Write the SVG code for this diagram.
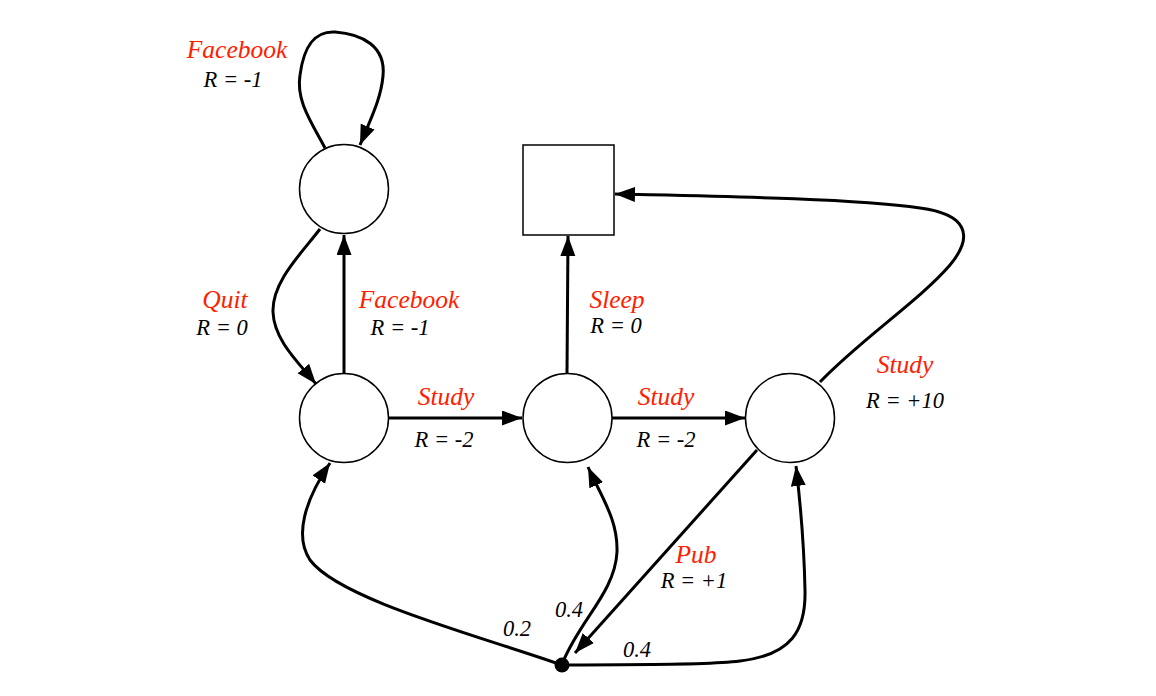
<svg xmlns="http://www.w3.org/2000/svg" width="1156" height="696" viewBox="0 0 1156 696">
<style>
.node{fill:#fff;stroke:#000;stroke-width:1.5}
.edge{fill:none;stroke:#000;stroke-width:3;marker-end:url(#ah)}
.act{font-family:"Liberation Serif","Times New Roman",serif;font-style:italic;font-size:25.5px;fill:#ff2000;text-anchor:middle}
.rw{font-family:"Liberation Serif","Times New Roman",serif;font-style:italic;font-size:22.5px;fill:#000;text-anchor:middle}
</style>
<defs>
<marker id="ah" markerUnits="userSpaceOnUse" markerWidth="22" markerHeight="16" refX="20" refY="7.5" orient="auto" viewBox="0 0 22 16">
<path d="M0,0 L20,7.5 L0,15 z" fill="#000"/>
</marker>
</defs>
<rect width="1156" height="696" fill="#fff"/>
<g id="connectors">
<path class="edge" d="M325,148 C310,120 296,100 300,75 C304,45 315,31 335,32 C362,34 386,46 383,76 C381,98 372,116 360,145"/>
<path class="edge" d="M320,229 C300,255 272,282 273,312 C274,340 298,362 316,384"/>
<path class="edge" d="M344,373 L344,235"/>
<path class="edge" d="M389,418 L522,418"/>
<path class="edge" d="M612,418 L745,418"/>
<path class="edge" d="M567,373 L568,236"/>
<path class="edge" d="M820,382 C860,340 920,300 950,265 C975,235 966,214 920,208 C850,198 700,196 615,194"/>
<path class="edge" d="M757,450 L575,653"/>
<path class="edge" d="M562,665 C480,636 340,600 310,560 C294,536 305,500 330,463"/>
<path class="edge" d="M563,662 C580,620 615,592 617,552 C618,520 602,498 588,467"/>
<path class="edge" d="M568,665 C620,664 700,666 740,661 C792,655 806,630 805,590 C804,540 800,500 796,466"/>
</g>
<g id="s_facebook"><circle class="node" cx="344" cy="189" r="44.5"/></g>
<g id="s_class1"><circle class="node" cx="344" cy="418" r="44.5"/></g>
<g id="s_class2"><circle class="node" cx="567.5" cy="418" r="44.5"/></g>
<g id="s_class3"><circle class="node" cx="790" cy="418" r="44.5"/></g>
<g id="s_sleep"><rect class="node" x="523" y="145" width="91" height="90"/></g>
<g id="pub_chance"><circle cx="562" cy="665" r="7.5" fill="#000"/></g>
<g id="labels">
<text class="act" x="237" y="58">Facebook</text>
<text class="rw" x="233" y="87">R = -1</text>
<text class="act" x="225" y="308">Quit</text>
<text class="rw" x="222" y="335">R = 0</text>
<text class="act" x="409" y="308">Facebook</text>
<text class="rw" x="400" y="335">R = -1</text>
<text class="act" x="446" y="405">Study</text>
<text class="rw" x="444" y="447">R = -2</text>
<text class="act" x="617" y="308">Sleep</text>
<text class="rw" x="616" y="333">R = 0</text>
<text class="act" x="666" y="405">Study</text>
<text class="rw" x="666" y="447">R = -2</text>
<text class="act" x="905" y="373">Study</text>
<text class="rw" x="905" y="408">R = +10</text>
<text class="act" x="696" y="563">Pub</text>
<text class="rw" x="694" y="588">R = +1</text>
<text class="rw" x="569" y="617">0.4</text>
<text class="rw" x="517" y="636">0.2</text>
<text class="rw" x="637" y="657">0.4</text>
</g>
</svg>
